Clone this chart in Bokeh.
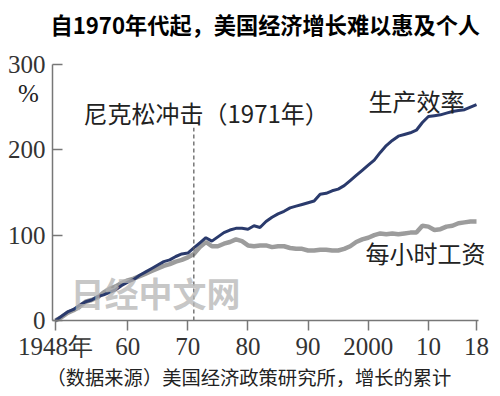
from bokeh.plotting import figure
from bokeh.models import Range1d, Label, ColumnDataSource
from bokeh.embed import file_html
from bokeh.resources import INLINE

# ---------------- data ----------------
years = list(range(1948, 2019))
productivity = [
    0, 5, 10, 13, 18, 22, 24, 28, 30, 33,
    36, 41, 45, 48, 53, 57, 61, 65, 69, 71,
    75, 78, 79, 85, 91, 97, 93, 98, 103, 106,
    108, 108, 107, 111, 109, 116, 121, 125, 128, 132,
    134, 136, 138, 140, 148, 149, 152, 154, 158, 164,
    170, 176, 182, 188, 197, 205, 211, 216, 218, 220,
    223, 232, 239, 240, 241, 243, 245, 246, 247, 250,
    253,
]
hourly_comp = [
    0, 4, 9, 12, 16, 22, 24, 27, 33, 37,
    40, 44, 47, 49, 52, 55, 58, 61, 64, 66,
    69, 71, 74, 78, 86, 92, 87, 87, 90, 92,
    95, 93, 88, 87, 88, 88, 86, 87, 87, 85,
    84, 84, 82, 82, 83, 83, 82, 82, 84, 87,
    92, 95, 97, 100, 102, 101, 102, 101, 102, 103,
    103, 111, 110, 106, 107, 110, 111, 114, 115, 116,
    116,
]
x_ticks = [1948, 1960, 1970, 1980, 1990, 2000, 2010, 2018]
x_tick_labels = ["1948年", "60", "70", "80", "90", "2000", "10", "18"]
y_ticks = [0, 100, 200, 300]
nixon_year = 1971
nixon_line_top = 226

title_text = "自1970年代起，美国经济增长难以惠及个人"
nixon_text = "尼克松冲击（1971年）"
prod_text = "生产效率"
wage_text = "每小时工资"
unit_text = "%"
source_text = "（数据来源）美国经济政策研究所，增长的累计"
watermark_text = "日经中文网"

CJK = "Noto Sans CJK SC"
NUM = "Liberation Sans Narrow"
NAVY = "#2a3a6c"
GRAY = "#9c9c9c"
AXIS = "#777777"
TXT = "#222222"

W, H = 500, 396
# axis box in page pixels: left 52, right 478, bottom 320, top 64
AX_L, AX_R, AX_B, AX_T = 52, 478, 320, 64
x_lo, x_hi = 1947.5, 2018.33
y_lo, y_hi = 0, 300
ppx = (AX_R - AX_L) / (x_hi - x_lo)
ppy = (AX_B - AX_T) / (y_hi - y_lo)

def dx(X):
    return x_lo + (X - AX_L) / ppx

def dy(Y):
    return (AX_B - Y) / ppy

p = figure(width=W, height=H, frame_width=W, frame_height=H,
           min_border=0, min_border_left=0, min_border_right=0,
           min_border_top=0, min_border_bottom=0,
           x_range=Range1d(dx(0), dx(W)), y_range=Range1d(dy(H), dy(0)),
           output_backend="svg", toolbar_location=None, title=None)
p.outline_line_color = None
p.grid.visible = False
p.background_fill_color = "white"
p.border_fill_color = "white"

# axes (drawn at fixed locations inside the full-canvas frame)
p.xaxis.fixed_location = y_lo
p.xaxis.bounds = (x_lo, x_hi)
p.xaxis.ticker = x_ticks
p.xaxis.major_label_overrides = {t: l for t, l in zip(x_ticks, x_tick_labels)}
p.xaxis.major_tick_in = 0
p.xaxis.major_tick_out = 10
p.xaxis.minor_tick_line_color = None
p.xaxis.axis_line_color = AXIS
p.xaxis.axis_line_width = 1.5
p.xaxis.major_tick_line_color = AXIS
p.xaxis.major_tick_line_width = 1.5
p.xaxis.major_label_text_font = NUM
p.xaxis.major_label_text_font_size = "25px"
p.xaxis.major_label_text_color = "#333333"
p.xaxis.major_label_standoff = 2

p.yaxis.fixed_location = x_lo
p.yaxis.bounds = (y_lo, y_hi)
p.yaxis.ticker = y_ticks
p.yaxis.major_tick_in = 10
p.yaxis.major_tick_out = 0
p.yaxis.minor_tick_line_color = None
p.yaxis.axis_line_color = AXIS
p.yaxis.axis_line_width = 1.5
p.yaxis.major_tick_line_color = AXIS
p.yaxis.major_tick_line_width = 1.5
p.yaxis.major_label_text_font = NUM
p.yaxis.major_label_text_font_size = "25px"
p.yaxis.major_label_text_color = "#333333"
p.yaxis.major_label_standoff = 7

# series
src = ColumnDataSource(dict(year=years, prod=productivity, wage=hourly_comp))
p.line("year", "wage", source=src, line_color=GRAY, line_width=4.5)
p.line("year", "prod", source=src, line_color=NAVY, line_width=3)

# Nixon shock marker
p.segment(x0=[nixon_year], y0=[y_lo], x1=[nixon_year], y1=[nixon_line_top],
          line_color="#555555", line_width=1.2, line_dash="4 3")

def lab(text, X, Y, size, font=CJK, style="normal", color=TXT, alpha=1.0, align="left"):
    p.add_layout(Label(x=dx(X), y=dy(Y), text=text,
                       text_font=font, text_font_size=size, text_font_style=style,
                       text_color=color, text_alpha=alpha, text_align=align,
                       text_baseline="middle"))

lab(title_text, 50, 23, "22.2px", style="bold", color="#000000")
lab(unit_text, 28, 93, "25px", font=NUM, align="center")
lab(nixon_text, 83, 112, "24px")
lab(prod_text, 368, 100, "24px")
lab(wage_text, 365, 252, "24px")
lab(source_text, 46, 376, "19.3px")
lab(watermark_text, 70, 292, "34px", style="bold", color="#b5b5b5", alpha=0.75)

open("out.html", "w").write(file_html(p, INLINE))
